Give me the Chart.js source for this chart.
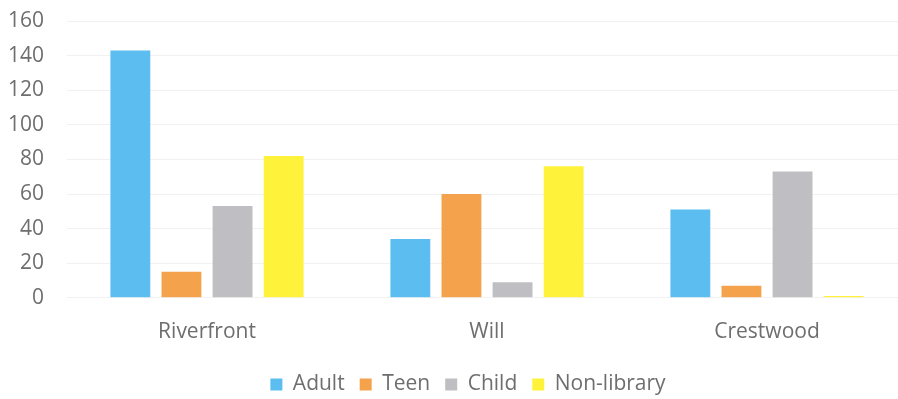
<!DOCTYPE html>
<html lang="en">
<head>
    <meta charset="UTF-8">
    <title>Library visits</title>
    <style>
        * { box-sizing: border-box; margin: 0; padding: 0; }
        html, body { width: 898px; height: 399px; overflow: hidden; background: #fff; }
        #wrap { width: 907px; height: 399px; position: relative; }
    </style>
    <script src="https://cdn.jsdelivr.net/npm/chart.js"></script>
</head>
<body>
    <div id="wrap"><canvas id="chart"></canvas></div>
    <script>
        const branches = ['Riverfront', 'Will', 'Crestwood'];
        const adult = [143, 34, 51];
        const teen = [15, 60, 7];
        const child = [53, 9, 73];
        const nonLibrary = [82, 76, 1];

        const textColor = '#6e6e6e';
        const font = { family: '"Open Sans", sans-serif', size: 21 };

        // nudge the legend a little to the right, like the original
        const legendShift = {
            id: 'legendShift',
            afterLayout(chart) {
                chart.legend.left += 10;
                chart.legend.right += 10;
            }
        };

        new Chart(document.getElementById('chart'), {
            type: 'bar',
            data: {
                labels: branches,
                datasets: [
                    { label: 'Adult', data: adult, backgroundColor: '#5cbef0' },
                    { label: 'Teen', data: teen, backgroundColor: '#f5a24c' },
                    { label: 'Child', data: child, backgroundColor: '#bfbfc3' },
                    { label: 'Non-library', data: nonLibrary, backgroundColor: '#fff23a' }
                ]
            },
            options: {
                responsive: true,
                maintainAspectRatio: false,
                animation: false,
                categoryPercentage: 0.73,
                barPercentage: 0.78,
                layout: { padding: { left: 9, top: 21, right: 0, bottom: -6 } },
                plugins: {
                    tooltip: { enabled: false },
                    legend: {
                        position: 'bottom',
                        labels: {
                            color: textColor,
                            font: font,
                            boxWidth: 12,
                            boxHeight: 12,
                            padding: 15
                        }
                    }
                },
                scales: {
                    x: {
                        grid: { display: false },
                        border: { display: false },
                        ticks: { color: textColor, font: font, padding: 14 }
                    },
                    y: {
                        min: 0,
                        max: 160,
                        afterFit: (scale) => {
                            scale.width = 58;
                            scale.paddingTop = 0;
                            scale.paddingBottom = 0;
                        },
                        grid: { color: '#f1f1f1', drawTicks: false },
                        border: { display: false },
                        ticks: { stepSize: 20, color: textColor, font: font, padding: 23 }
                    }
                }
            },
            plugins: [legendShift]
        });
    </script>
</body>
</html>
